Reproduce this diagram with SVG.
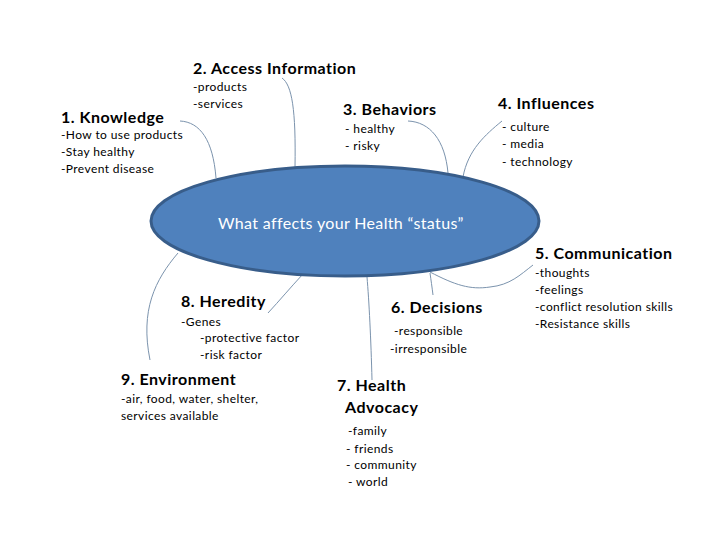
<svg xmlns="http://www.w3.org/2000/svg" width="720" height="540" viewBox="0 0 720 540">
<style>
.h{font-family:Lato,"Liberation Sans",sans-serif;font-weight:bold;font-size:16px;letter-spacing:0.5px;fill:#000}
.b{font-family:Lato,"Liberation Sans",sans-serif;font-size:12px;letter-spacing:0.4px;fill:#000}
.c{fill:none;stroke:#7b93ad;stroke-width:1}
.t{font-family:Lato,"Liberation Sans",sans-serif;font-size:16px;letter-spacing:0.35px;fill:#fff}
</style>
<rect width="720" height="540" fill="#fff"/>
<g id="connectors">
<path class="c" d="M180,121 C200,122 213,140 216,178"/>
<path class="c" d="M282,78 C292,85 296,110 295,167"/>
<path class="c" d="M408,121 C430,122 445,140 448,173"/>
<path class="c" d="M502,121 C485,135 468,150 463,177"/>
<path class="c" d="M430,272 C455,285 470,290 490,287 C510,285 520,275 533,265"/>
<path class="c" d="M430,273 C431,280 432,287 433,295"/>
<path class="c" d="M367,277 C369,300 371,340 372,380"/>
<path class="c" d="M303,274 C290,288 280,300 268,313"/>
<path class="c" d="M178,253 C155,280 140,310 150,360"/>
</g>
<g id="center">
<ellipse cx="345" cy="221" rx="194" ry="55" fill="#4f81bd" stroke="#385d8a" stroke-width="3"/>
<text class="t" x="218" y="229">What affects your Health “status”</text>
</g>
<g id="n1">
<text class="h" x="61" y="123">1. Knowledge</text>
<text class="b" x="61" y="139">-How to use products</text>
<text class="b" x="61" y="156">-Stay healthy</text>
<text class="b" x="61" y="173">-Prevent disease</text>
</g>
<g id="n2">
<text class="h" x="193" y="74">2. Access Information</text>
<text class="b" x="193" y="91">-products</text>
<text class="b" x="193" y="108">-services</text>
</g>
<g id="n3">
<text class="h" x="343" y="115">3. Behaviors</text>
<text class="b" x="345" y="133">- healthy</text>
<text class="b" x="345" y="150">- risky</text>
</g>
<g id="n4">
<text class="h" x="498" y="109">4. Influences</text>
<text class="b" x="502" y="131">- culture</text>
<text class="b" x="502" y="148">- media</text>
<text class="b" x="502" y="166">- technology</text>
</g>
<g id="n5">
<text class="h" x="535" y="259">5. Communication</text>
<text class="b" x="535" y="277">-thoughts</text>
<text class="b" x="535" y="294">-feelings</text>
<text class="b" x="535" y="311">-conflict resolution skills</text>
<text class="b" x="535" y="328">-Resistance skills</text>
</g>
<g id="n6">
<text class="h" x="391" y="313">6. Decisions</text>
<text class="b" x="394" y="335">-responsible</text>
<text class="b" x="390" y="353">-irresponsible</text>
</g>
<g id="n7">
<text class="h" x="337" y="391">7. Health</text>
<text class="h" x="345" y="413">Advocacy</text>
<text class="b" x="348" y="435">-family</text>
<text class="b" x="346" y="453">- friends</text>
<text class="b" x="346" y="469">- community</text>
<text class="b" x="348" y="486">- world</text>
</g>
<g id="n8">
<text class="h" x="181" y="307">8. Heredity</text>
<text class="b" x="181" y="326">-Genes</text>
<text class="b" x="200" y="342">-protective factor</text>
<text class="b" x="200" y="359">-risk factor</text>
</g>
<g id="n9">
<text class="h" x="121" y="385">9. Environment</text>
<text class="b" x="121" y="403">-air, food, water, shelter,</text>
<text class="b" x="121" y="420">services available</text>
</g>
</svg>
